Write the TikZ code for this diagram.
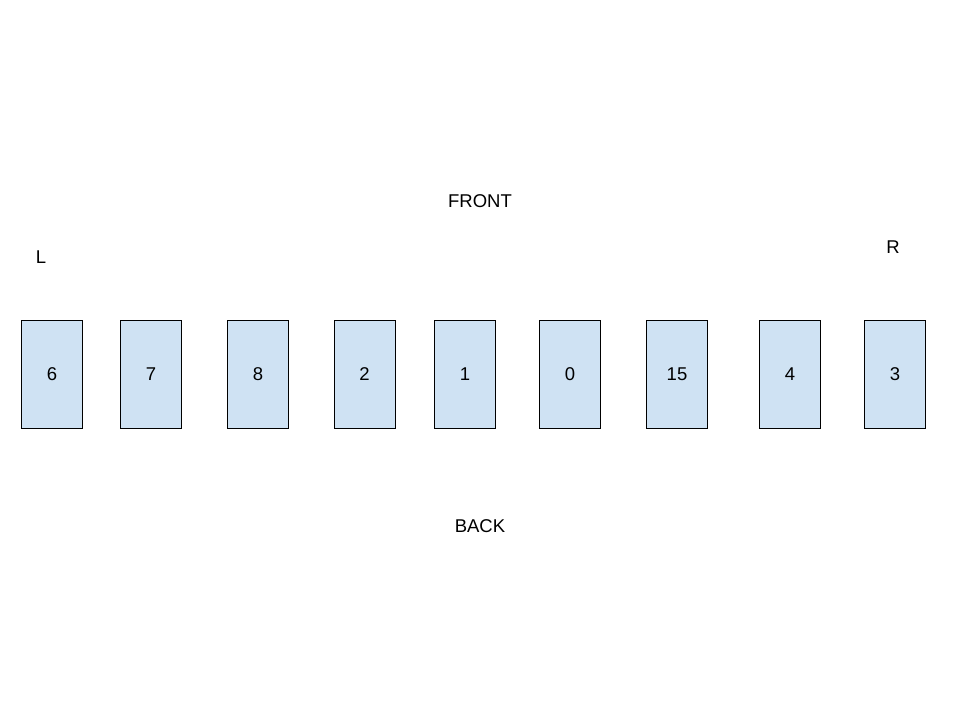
\documentclass[tikz,border=0pt]{standalone}
\usepackage{fontspec}
\setmainfont{Liberation Sans}
\usepackage{xcolor}
\usepackage{tikz}
\usetikzlibrary{positioning}
\usetikzlibrary{calc}

\definecolor{seatblue}{HTML}{CFE2F3}

\tikzset{
  seat/.style={draw=black,line width=0.9pt,fill=seatblue,minimum width=61pt,minimum height=108pt,inner sep=0pt},
  side/.style={inner sep=0pt}
}

\begin{document}
\begin{tikzpicture}[x=1pt,y=-1pt,font=\fontsize{18.5}{22}\selectfont,text height=2.6ex,text depth=.25ex]
  \useasboundingbox (0,0) rectangle (960,720);
  \node [side] (Front) at (480, 201) {FRONT};
  \node [side] (Back) at (480, 526) {BACK};
  \node [side] (Left) at (41, 257) {L};
  \node [side] (Right) at (893, 247) {R};
  \node [seat] (Six) at (52, 374) {6};
  \node [seat] (Seven) at (151, 374) {7};
  \node [seat] (Eight) at (258, 374) {8};
  \node [seat] (Two) at (364.5, 374) {2};
  \node [seat] (One) at (465, 374) {1};
  \node [seat] (Zero) at (570, 374) {0};
  \node [seat] (Fifteen) at (677, 374) {15};
  \node [seat] (Four) at (790, 374) {4};
  \node [seat] (Three) at (895, 374) {3};
\end{tikzpicture}
\end{document}
